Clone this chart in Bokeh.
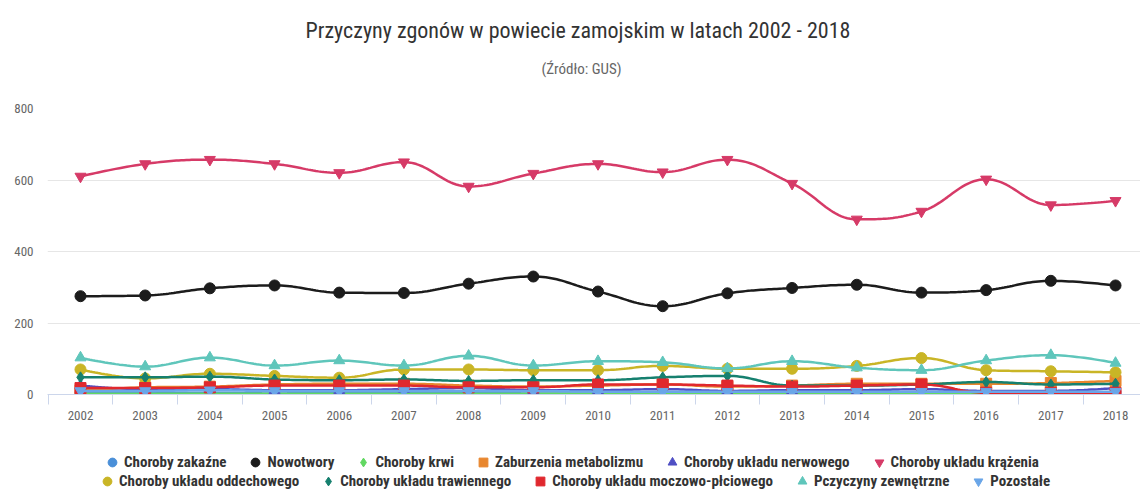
import numpy as np
from bokeh.plotting import figure
from bokeh.layouts import column
from bokeh.models import (Range1d, FixedTicker, Legend, LegendItem, Title,
                          ColumnDataSource)
from bokeh.embed import file_html
from bokeh.resources import INLINE

years = list(range(2002, 2019))
year_labels = [str(y) for y in years]

zakazne = [3, 5, 5, 3, 5, 5, 5, 3, 3, 3, 3, 3, 3, 3, 3, 3, 5]
nowotwory = [275, 277, 297, 305, 285, 284, 310, 330, 288, 247, 283, 298, 307, 285, 292, 318, 305]
krwi = [2, 2, 2, 2, 2, 2, 2, 2, 2, 2, 2, 2, 2, 2, 2, 2, 2]
metabolizmu = [12, 20, 22, 28, 30, 30, 25, 22, 25, 28, 22, 25, 30, 30, 30, 32, 38]
nerwowego = [25, 15, 15, 12, 12, 15, 18, 12, 12, 15, 10, 12, 12, 15, 10, 10, 18]
krazenia = [610, 645, 657, 645, 620, 650, 582, 618, 645, 622, 657, 590, 490, 512, 602, 530, 542]
oddechowego = [70, 45, 58, 52, 47, 70, 70, 68, 68, 80, 72, 72, 80, 102, 68, 65, 62]
trawiennego = [48, 48, 50, 42, 40, 42, 38, 40, 40, 48, 52, 25, 25, 28, 35, 28, 30]
moczowo = [18, 18, 20, 25, 25, 25, 20, 20, 28, 28, 25, 22, 25, 28, 5, 5, 5]
zewnetrzne = [103, 78, 103, 81, 95, 81, 108, 81, 93, 90, 73, 93, 75, 68, 95, 110, 88]
pozostale = [10, 10, 12, 10, 10, 10, 10, 10, 8, 8, 8, 8, 8, 8, 8, 8, 8]

series_names = ["Choroby zakaźne", "Nowotwory", "Choroby krwi", "Zaburzenia metabolizmu",
                "Choroby układu nerwowego", "Choroby układu krążenia",
                "Choroby układu oddechowego", "Choroby układu trawiennego",
                "Choroby układu moczowo-płciowego", "Pczyczyny zewnętrzne", "Pozostałe"]
series_values = [zakazne, nowotwory, krwi, metabolizmu, nerwowego, krazenia,
                 oddechowego, trawiennego, moczowo, zewnetrzne, pozostale]
series_colors = ["#4a8fd8", "#1c1c1c", "#62d862", "#e8862e", "#4f4fc4", "#d63a67",
                 "#c9b526", "#16806f", "#e0282e", "#5fc6bb", "#6aa6e8"]
series_markers = ["circle", "circle", "diamond", "square", "triangle", "inverted_triangle",
                  "circle", "diamond", "square", "triangle", "inverted_triangle"]

title_text = "Przyczyny zgonów w powiecie zamojskim w latach 2002 - 2018"
subtitle_text = "(Źródło: GUS)"

FONT = "'Roboto Condensed', 'DejaVu Sans Condensed', sans-serif"


def spline(xs, ys, n=24):
    """Highcharts-style spline rendering of the given points."""
    sm = 1.5
    d = sm + 1
    N = len(xs)
    lc = [None] * N
    rc = [None] * N
    for i in range(N):
        x, y = xs[i], ys[i]
        if 0 < i < N - 1:
            lx, ly = xs[i - 1], ys[i - 1]
            nx, ny = xs[i + 1], ys[i + 1]
            lcx = (sm * x + lx) / d
            lcy = (sm * y + ly) / d
            rcx = (sm * x + nx) / d
            rcy = (sm * y + ny) / d
            corr = ((rcy - lcy) * (rcx - x)) / (rcx - lcx) + y - rcy
            lcy += corr
            rcy += corr
            if lcy > ly and lcy > y:
                lcy = max(ly, y)
                rcy = 2 * y - lcy
            elif lcy < ly and lcy < y:
                lcy = min(ly, y)
                rcy = 2 * y - lcy
            if rcy > ny and rcy > y:
                rcy = max(ny, y)
                lcy = 2 * y - rcy
            elif rcy < ny and rcy < y:
                rcy = min(ny, y)
                lcy = 2 * y - rcy
            lc[i] = (lcx, lcy)
            rc[i] = (rcx, rcy)
        else:
            lc[i] = (x, y)
            rc[i] = (x, y)
    outx, outy = [xs[0]], [ys[0]]
    t = np.linspace(0, 1, n)[1:]
    for i in range(1, N):
        p0 = np.array([xs[i - 1], ys[i - 1]], float)
        p1 = np.array(rc[i - 1], float)
        p2 = np.array(lc[i], float)
        p3 = np.array([xs[i], ys[i]], float)
        for tt in t:
            b = ((1 - tt) ** 3) * p0 + 3 * ((1 - tt) ** 2) * tt * p1 + 3 * (1 - tt) * tt * tt * p2 + tt ** 3 * p3
            outx.append(b[0])
            outy.append(b[1])
    return outx, outy


p = figure(width=1140, height=428, output_backend="svg", toolbar_location=None,
           x_range=Range1d(2001.49, 2018.386), y_range=Range1d(0, 800),
           min_border_left=47, min_border_right=0, min_border_top=108, min_border_bottom=34)

p.title.text = title_text
p.title.align = "left"
p.title.text_font = FONT
p.title.text_font_size = "22px"
p.title.text_font_style = "normal"
p.title.text_color = "#333333"
p.title.offset = 258
try:
    p.title.standoff = 10
except Exception:
    pass
p.add_layout(Title(text=" ", text_font_size="8px"), "above")
sub = Title(text=subtitle_text, align="left", text_font=FONT,
            text_font_size="15px", text_font_style="normal",
            text_color="#666666", offset=494)
try:
    sub.standoff = 20
except Exception:
    pass
p.add_layout(sub, "above")

p.outline_line_color = None
p.background_fill_color = "white"
p.border_fill_color = "white"

p.xgrid.grid_line_color = None
p.ygrid.grid_line_color = "#e6e6e6"
p.ygrid.ticker = FixedTicker(ticks=[0, 200, 400, 600, 800])

p.yaxis.ticker = FixedTicker(ticks=[0, 200, 400, 600, 800])
p.yaxis.axis_line_color = None
p.yaxis.major_tick_line_color = None
p.yaxis.minor_tick_line_color = None
p.yaxis.major_label_text_font = FONT
p.yaxis.major_label_text_font_size = "13px"
p.yaxis.major_label_text_color = "#666666"
p.yaxis.major_label_standoff = 8

p.xaxis.ticker = FixedTicker(ticks=years, minor_ticks=[y - 0.5 for y in years] + [2018.5])
p.xaxis.major_label_overrides = {y: lbl for y, lbl in zip(years, year_labels)}
p.xaxis.axis_line_color = "#ccd6eb"
p.xaxis.major_tick_line_color = None
p.xaxis.minor_tick_line_color = "#ccd6eb"
p.xaxis.minor_tick_in = 0
p.xaxis.minor_tick_out = 10
p.xaxis.major_label_text_font = FONT
p.xaxis.major_label_text_font_size = "13px"
p.xaxis.major_label_text_color = "#666666"
p.xaxis.major_label_standoff = 6

# legend figure
lf = figure(width=1140, height=62, output_backend="svg", toolbar_location=None,
            x_range=Range1d(0, 1), y_range=Range1d(0, 1),
            x_axis_type=None, y_axis_type=None,
            min_border_left=0, min_border_right=0, min_border_top=0, min_border_bottom=0)
lf.outline_line_color = None
lf.xgrid.visible = False
lf.ygrid.visible = False

items = []
for name, vals, col, mk in zip(series_names, series_values, series_colors, series_markers):
    sx, sy = spline(years, vals)
    p.line(sx, sy, line_color=col, line_width=2.5)
    src = ColumnDataSource(dict(x=years, y=vals))
    p.scatter("x", "y", source=src, marker=mk, size=11, fill_color=col, line_color=col)
    lr = lf.scatter(x=[-10], y=[-10], marker=mk, size=11, fill_color=col, line_color=col)
    items.append(LegendItem(label=name, renderers=[lr]))

for group, loc in ((items[:6], (54, 17)), (items[6:], (49, -2))):
    lg = Legend(items=group, orientation="horizontal", location=loc,
                border_line_color=None, background_fill_alpha=0,
                padding=0, margin=0, spacing=18, glyph_width=22, glyph_height=22,
                label_standoff=1, label_height=14,
                label_text_font=FONT, label_text_font_size="15px",
                label_text_font_style="bold", label_text_color="#333333")
    lf.add_layout(lg, "center")

layout = column(p, lf, spacing=0)
open("out.html", "w").write(file_html(layout, INLINE))
